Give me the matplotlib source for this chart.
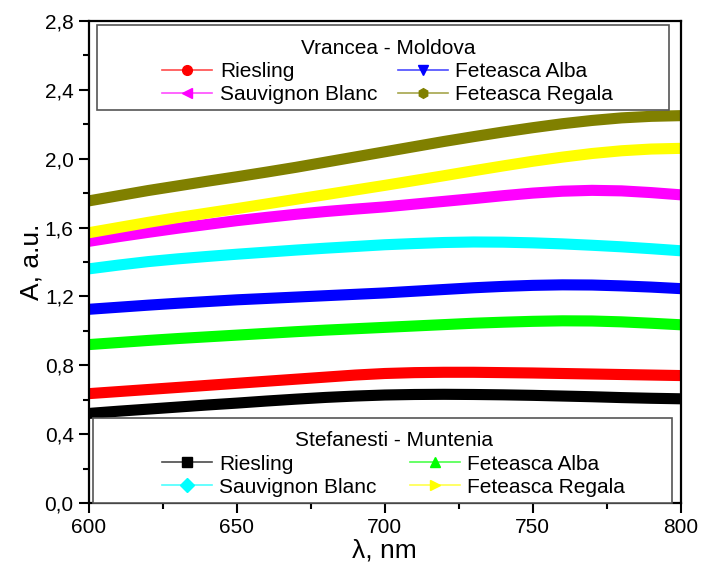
import matplotlib
matplotlib.use("Agg")
import matplotlib.pyplot as plt
from matplotlib.lines import Line2D
from matplotlib.patches import Rectangle
from matplotlib.ticker import MultipleLocator

plt.rcParams['font.family'] = ['Liberation Sans', 'DejaVu Sans']

# ---------------- data ----------------
wavelength = [600, 610, 620, 630, 640, 650, 660, 670, 680, 690, 700,
              710, 720, 730, 740, 750, 760, 770, 780, 790, 800]

# Vrancea - Moldova
vr_riesling = [0.635, 0.647, 0.659, 0.671, 0.683, 0.695, 0.707, 0.719, 0.731, 0.743, 0.752,
               0.757, 0.759, 0.759, 0.757, 0.755, 0.752, 0.749, 0.746, 0.743, 0.740]
vr_feteasca_alba = [1.125, 1.137, 1.149, 1.160, 1.170, 1.180, 1.188, 1.196, 1.204, 1.212, 1.220,
                    1.230, 1.240, 1.250, 1.258, 1.264, 1.267, 1.266, 1.261, 1.254, 1.245]
vr_sauvignon = [1.520, 1.547, 1.572, 1.596, 1.618, 1.640, 1.659, 1.677, 1.693, 1.707, 1.720,
                1.736, 1.752, 1.768, 1.785, 1.800, 1.811, 1.816, 1.813, 1.803, 1.790]
vr_feteasca_regala = [1.755, 1.785, 1.815, 1.842, 1.869, 1.895, 1.922, 1.950, 1.980, 2.010, 2.040,
                      2.070, 2.100, 2.128, 2.155, 2.180, 2.203, 2.222, 2.237, 2.246, 2.250]

# Stefanesti - Muntenia
st_riesling = [0.520, 0.533, 0.545, 0.557, 0.569, 0.580, 0.592, 0.603, 0.613, 0.621, 0.627,
               0.630, 0.631, 0.630, 0.628, 0.625, 0.621, 0.617, 0.612, 0.608, 0.605]
st_feteasca_alba = [0.920, 0.932, 0.944, 0.955, 0.965, 0.975, 0.985, 0.995, 1.004, 1.012, 1.020,
                    1.028, 1.036, 1.044, 1.050, 1.055, 1.058, 1.057, 1.052, 1.044, 1.035]
st_sauvignon = [1.360, 1.382, 1.402, 1.418, 1.432, 1.445, 1.457, 1.469, 1.480, 1.490, 1.500,
                1.507, 1.513, 1.516, 1.515, 1.511, 1.505, 1.497, 1.488, 1.477, 1.465]
st_feteasca_regala = [1.570, 1.600, 1.630, 1.658, 1.684, 1.710, 1.737, 1.764, 1.791, 1.818, 1.845,
                      1.873, 1.901, 1.930, 1.958, 1.985, 2.009, 2.030, 2.046, 2.056, 2.060]

variety_labels = ["Riesling", "Feteasca Alba", "Sauvignon Blanc", "Feteasca Regala"]
group_titles = ["Vrancea - Moldova", "Stefanesti - Muntenia"]

y_ticks = [0.0, 0.4, 0.8, 1.2, 1.6, 2.0, 2.4, 2.8]
y_tick_labels = ["0,0", "0,4", "0,8", "1,2", "1,6", "2,0", "2,4", "2,8"]
x_ticks = [600, 650, 700, 750, 800]

# ---------------- style ----------------
vr_series = [vr_riesling, vr_feteasca_alba, vr_sauvignon, vr_feteasca_regala]
st_series = [st_riesling, st_feteasca_alba, st_sauvignon, st_feteasca_regala]
vr_colors = ["#FF0000", "#0000FF", "#FF00FF", "#808000"]
st_colors = ["#000000", "#00FF00", "#00FFFF", "#FFFF00"]
vr_markers = ["o", "v", "<", "h"]
st_markers = ["s", "^", "D", ">"]

fig = plt.figure(figsize=(7.01, 5.67), dpi=100)
ax = fig.add_axes([0.127, 0.113, 0.844, 0.850])

for ys, c in zip(vr_series, vr_colors):
    ax.plot(wavelength, ys, color=c, lw=8, solid_capstyle="butt",
            solid_joinstyle="round", zorder=2)
for ys, c in zip(st_series, st_colors):
    ax.plot(wavelength, ys, color=c, lw=8, solid_capstyle="butt",
            solid_joinstyle="round", zorder=2)

ax.set_xlim(600, 800)
ax.set_ylim(0, 2.8)
ax.set_xticks(x_ticks)
ax.set_xticklabels([str(v) for v in x_ticks])
ax.set_yticks(y_ticks)
ax.set_yticklabels(y_tick_labels)
ax.xaxis.set_minor_locator(MultipleLocator(25))
ax.yaxis.set_minor_locator(MultipleLocator(0.2))
ax.tick_params(which="major", direction="out", length=7, width=1.5,
               labelsize=15, top=False, right=False, pad=4)
ax.tick_params(which="minor", direction="out", length=4, width=1.5,
               top=False, right=False)
for s in ax.spines.values():
    s.set_linewidth(1.6)

ax.set_xlabel("λ, nm", fontsize=19, labelpad=1)
ax.set_ylabel("A, a.u.", fontsize=19, labelpad=0.5)

# legend boxes
def legend_box(x0, y0, x1, y1):
    r = Rectangle((x0, y0), x1 - x0, y1 - y0, transform=ax.transAxes,
                  facecolor="white", edgecolor="#555555", lw=1.2, zorder=5,
                  clip_on=False)
    ax.add_patch(r)

def make_handles(colors, markers):
    hs = []
    for c, m in zip(colors, markers):
        rgb = matplotlib.colors.to_rgb(c)
        hs.append(Line2D([], [], color=(*rgb, 0.7), lw=1.2, marker=m,
                         markersize=7, markerfacecolor=c, markeredgecolor=c))
    return hs

legend_box(0.0135, 0.815, 0.980, 0.992)
legend_box(0.007, 0.0, 0.985, 0.176)

# column-wise fill -> order so rows read Riesling | Feteasca Alba, Sauvignon | Regala
order = [0, 2, 1, 3]
h_vr = make_handles(vr_colors, vr_markers)
leg1 = ax.legend([h_vr[i] for i in order], [variety_labels[i] for i in order],
                 title=group_titles[0], ncol=2,
                 loc="upper center", bbox_to_anchor=(0.505, 0.997),
                 frameon=False, fontsize=15, title_fontsize=15,
                 handlelength=2.4, handletextpad=0.35, columnspacing=1.0,
                 labelspacing=0.2, borderpad=0.3)
leg1.set_zorder(6)
ax.add_artist(leg1)

h_st = make_handles(st_colors, st_markers)
leg2 = ax.legend([h_st[i] for i in order], [variety_labels[i] for i in order],
                 title=group_titles[1], ncol=2,
                 loc="upper center", bbox_to_anchor=(0.515, 0.183),
                 frameon=False, fontsize=15, title_fontsize=15,
                 handlelength=2.4, handletextpad=0.35, columnspacing=1.6,
                 labelspacing=0.2, borderpad=0.3)
leg2.set_zorder(6)

fig.savefig("out.png", dpi=100)
